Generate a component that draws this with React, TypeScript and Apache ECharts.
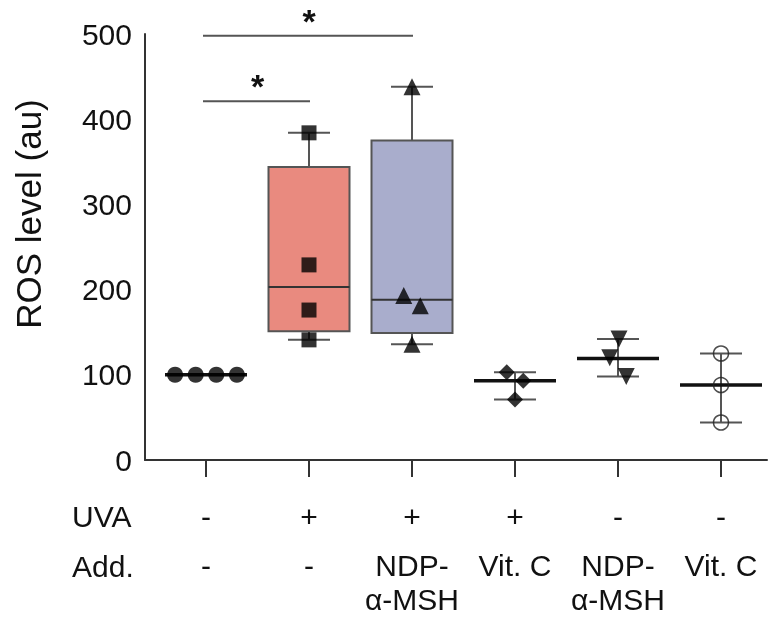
import React, { useEffect, useRef } from 'react';
import * as echarts from 'echarts';

// Row labels under each group
const uvaRow = ['-', '+', '+', '+', '-', '-'];
const addRow = ['-', '-', 'NDP-\nα-MSH', 'Vit. C', 'NDP-\nα-MSH', 'Vit. C'];
const categories = ['ctrl', 'UVA', 'UVA+NDP', 'UVA+VitC', 'NDP', 'VitC'];

// Individual data points per group (ROS level, au)
const g0 = [100, 100, 100, 100];
const g1 = [384, 229, 176, 141];
const g2 = [438, 193, 181, 136];
const g3 = [103, 93, 71];
const g4 = [142, 120, 98];
const g5 = [125, 88, 44];

// Horizontal spread of points within a group (category units)
const jit0 = [-0.3, -0.1, 0.1, 0.3];
const jit1 = [0, 0, 0, 0];
const jit2 = [0, -0.08, 0.08, 0];
const jit3 = [-0.08, 0.08, 0];
const jit4 = [0.01, -0.08, 0.08];
const jit5 = [0, 0, 0];

// Summary statistics per group
const mins = [100, 141, 136, 71, 98, 44];
const q1s = [null, 151, 149, null, null, null];
const medians = [100, 203, 188, 93, 119, 88];
const q3s = [null, 344, 375, null, null, null];
const maxs = [100, 384, 438, 103, 142, 125];

// Significance brackets: [from group, to group, y level]
const sigFrom = [0, 0];
const sigTo = [1, 2];
const sigLevel = [421, 498];
const sigText = ['*', '*'];

const yMin = 0;
const yMax = 500;
const yStep = 100;

const FONT = "'Liberation Sans', Arial, Helvetica, sans-serif";
const boxFill = ['#000', '#E98A7F', '#A9ADCC', '#000', '#000', '#000'];

export default function App() {
  const ref = useRef<HTMLDivElement>(null);
  useEffect(() => {
    if (!ref.current) return;
    const chart = echarts.init(ref.current, null, { renderer: 'svg' });

    const summaryData = categories.map((_, i) => [
      i,
      mins[i],
      q1s[i] ?? medians[i],
      medians[i],
      q3s[i] ?? medians[i],
      maxs[i],
      q1s[i] != null ? 1 : 0,
    ]);

    const pts = (vals: number[], jit: number[], gi: number) => vals.map((v, k) => [gi + jit[k], v]);

    const scatterBase = {
      type: 'scatter',
      xAxisIndex: 2,
      yAxisIndex: 1,
      z: 5,
      itemStyle: { color: '#000' },
    };

    const option: any = {
      animation: false,
      textStyle: { fontFamily: FONT },
      grid: [
        { left: 145, right: 8, top: 34, bottom: 157, outerBoundsMode: 'none', containLabel: false },
        { left: 154.5, right: 2.5, top: 34, bottom: 157, outerBoundsMode: 'none', containLabel: false },
      ],
      xAxis: [
        {
          type: 'value', gridIndex: 0, min: 0, max: 1,
          axisLine: { show: true, lineStyle: { color: '#333', width: 2 } },
          axisTick: { show: false }, axisLabel: { show: false }, splitLine: { show: false },
        },
        {
          type: 'category', gridIndex: 1, data: categories,
          axisLine: { show: false },
          axisTick: { show: true, alignWithLabel: true, length: 17, lineStyle: { color: '#333', width: 2 } },
          axisLabel: {
            interval: 0,
            margin: 24,
            formatter: (_v: string, i: number) =>
              `{u|${uvaRow[i]}}\n` + addRow[i].split('\n').map((s) => `{a|${s}}`).join('\n'),
            rich: {
              u: { fontSize: 30, lineHeight: 64, color: '#111', fontFamily: FONT },
              a: { fontSize: 30, lineHeight: 34, color: '#111', fontFamily: FONT },
            },
          },
        },
        {
          type: 'value', gridIndex: 1, min: -0.5, max: 5.5, show: false,
        },
      ],
      yAxis: [
        {
          type: 'value', gridIndex: 0, min: yMin, max: yMax, interval: yStep,
          axisLine: { show: true, lineStyle: { color: '#333', width: 2 } },
          axisTick: { show: false },
          splitLine: { show: false },
          axisLabel: { fontSize: 30, color: '#111', margin: 13, fontFamily: FONT },
        },
        { type: 'value', gridIndex: 1, min: yMin, max: yMax, show: false },
      ],
      graphic: [
        {
          type: 'text', x: 28, y: 214, rotation: Math.PI / 2,
          style: { text: 'ROS level (au)', fontSize: 35, fontFamily: FONT, fill: '#111', textAlign: 'center', textVerticalAlign: 'middle' },
        },
        {
          type: 'text', x: 72, y: 516,
          style: { text: 'UVA', fontSize: 30, fontFamily: FONT, fill: '#111', textAlign: 'left', textVerticalAlign: 'middle' },
        },
        {
          type: 'text', x: 72, y: 566,
          style: { text: 'Add.', fontSize: 30, fontFamily: FONT, fill: '#111', textAlign: 'left', textVerticalAlign: 'middle' },
        },
      ],
      series: [
        {
          type: 'custom',
          xAxisIndex: 1,
          yAxisIndex: 1,
          z: 2,
          clip: false,
          data: summaryData,
          renderItem: (_p: any, api: any) => {
            const i = api.value(0);
            const x = api.coord([i, api.value(3)])[0];
            const yMn = api.coord([i, api.value(1)])[1];
            const yLo = api.coord([i, api.value(2)])[1];
            const yMd = api.coord([i, api.value(3)])[1];
            const yHi = api.coord([i, api.value(4)])[1];
            const yMx = api.coord([i, api.value(5)])[1];
            const hasBox = api.value(6) === 1;
            const thin = { stroke: '#555', lineWidth: 2 };
            const children: any[] = [
              { type: 'line', shape: { x1: x, y1: yHi, x2: x, y2: yMx }, style: thin },
              { type: 'line', shape: { x1: x, y1: yLo, x2: x, y2: yMn }, style: thin },
              { type: 'line', shape: { x1: x - 21, y1: yMx, x2: x + 21, y2: yMx }, style: thin },
              { type: 'line', shape: { x1: x - 21, y1: yMn, x2: x + 21, y2: yMn }, style: thin },
            ];
            if (hasBox) {
              children.push({
                type: 'rect',
                shape: { x: x - 40.5, y: yHi, width: 81, height: yLo - yHi },
                style: { fill: boxFill[i], stroke: '#555', lineWidth: 2 },
              });
              children.push({ type: 'line', shape: { x1: x - 40.5, y1: yMd, x2: x + 40.5, y2: yMd }, style: { stroke: '#333', lineWidth: 2 } });
            } else {
              children.push({ type: 'line', shape: { x1: x - 41, y1: yMd, x2: x + 41, y2: yMd }, style: { stroke: '#111', lineWidth: 3.5 } });
            }
            return { type: 'group', children };
          },
        },
        {
          type: 'custom',
          xAxisIndex: 1,
          yAxisIndex: 1,
          z: 3,
          clip: false,
          data: sigFrom.map((a, k) => [a, sigTo[k], sigLevel[k], k]),
          renderItem: (_p: any, api: any) => {
            const a = api.coord([api.value(0), api.value(2)]);
            const b = api.coord([api.value(1), api.value(2)]);
            const k = api.value(3);
            return {
              type: 'group',
              children: [
                { type: 'line', shape: { x1: a[0] - 3, y1: a[1], x2: b[0] + 1, y2: b[1] }, style: { stroke: '#555', lineWidth: 2 } },
                {
                  type: 'text', x: (a[0] + b[0]) / 2, y: a[1] - 15,
                  style: { text: sigText[k], fontSize: 34, fontWeight: 'bold', fontFamily: FONT, fill: '#111', textAlign: 'center', textVerticalAlign: 'middle' },
                },
              ],
            };
          },
        },
        { ...scatterBase, data: pts(g0, jit0, 0), symbol: 'circle', symbolSize: 16 },
        { ...scatterBase, data: pts(g1, jit1, 1), symbol: 'rect', symbolSize: 15 },
        { ...scatterBase, data: pts(g2, jit2, 2), symbol: 'triangle', symbolSize: 17 },
        { ...scatterBase, data: pts(g3, jit3, 3), symbol: 'diamond', symbolSize: 16 },
        { ...scatterBase, data: pts(g4, jit4, 4), symbol: 'triangle', symbolRotate: 180, symbolSize: 17 },
        {
          ...scatterBase, data: pts(g5, jit5, 5), symbol: 'circle', symbolSize: 15,
          itemStyle: { color: 'rgba(0,0,0,0)', borderColor: '#222', borderWidth: 1.5 },
        },
      ],
    };
    chart.setOption(option);
    return () => chart.dispose();
  }, []);
  return <div ref={ref} style={{ position: 'fixed', left: 0, top: 0, width: 775, height: 617 }} />;
}
